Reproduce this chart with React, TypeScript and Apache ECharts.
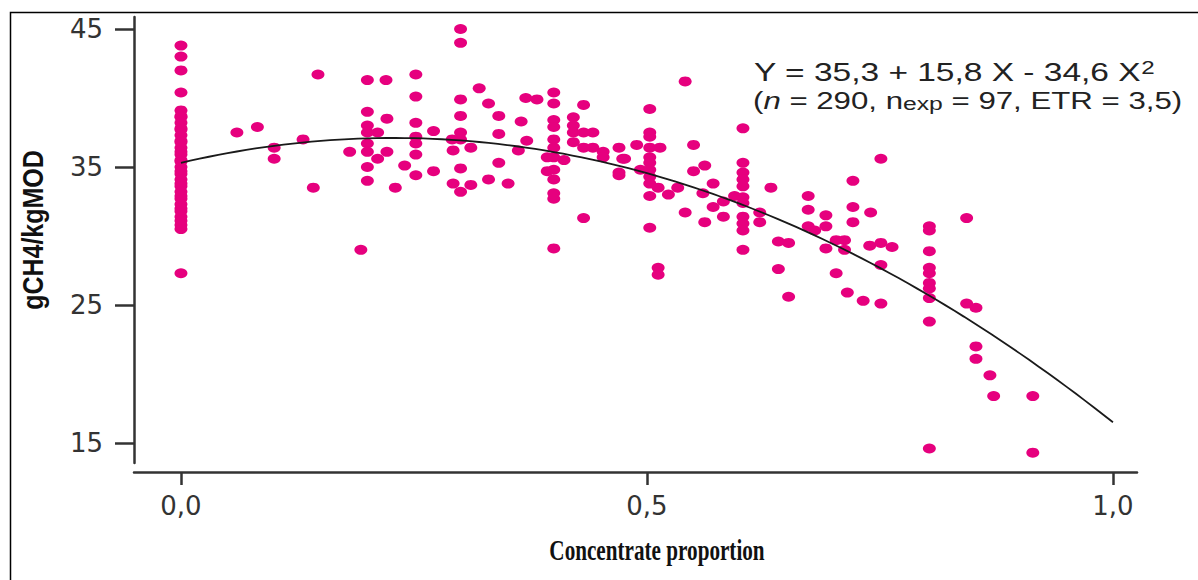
import React, { useEffect, useRef } from "react";
import * as echarts from "echarts";

// Forage-only diets (concentrate proportion = 0)
const forageMethane = [
  43.8, 43.0, 42.0, 40.4, 39.1, 38.7, 38.6, 38.2, 37.8, 37.7, 37.3, 36.9, 36.8,
  36.4, 36.1, 35.9, 35.5, 35.4, 35.0, 34.7, 34.5, 34.1, 33.8, 33.6, 33.2, 32.9,
  32.7, 32.3, 32.0, 31.8, 31.4, 31.1, 30.8, 30.5, 27.3,
];

// [concentrate proportion, gCH4/kgMOD]
const lowConcentrate: [number, number][] = [
  [0.06, 37.5], [0.082, 37.9], [0.1, 36.4], [0.1, 35.6], [0.131, 37.0],
  [0.142, 33.5], [0.147, 41.7], [0.181, 36.1], [0.193, 29.0],
  [0.2, 41.3], [0.2, 39.0], [0.2, 38.0], [0.2, 37.5], [0.2, 36.7], [0.2, 36.1],
  [0.2, 35.0], [0.2, 34.0],
  [0.211, 37.5], [0.211, 35.6], [0.22, 41.3], [0.221, 38.5], [0.221, 36.1],
  [0.23, 33.5], [0.24, 35.1],
  [0.252, 41.7], [0.252, 40.1], [0.252, 38.2], [0.252, 37.2], [0.252, 36.7],
  [0.252, 35.9], [0.252, 34.4],
  [0.271, 37.6], [0.271, 34.7],
  [0.3, 45.0], [0.3, 44.0], [0.3, 39.9], [0.3, 38.7], [0.3, 37.5], [0.3, 37.0],
  [0.3, 34.9], [0.3, 33.2],
  [0.291, 37.0], [0.292, 36.2], [0.292, 33.8], [0.311, 36.4], [0.311, 33.7],
  [0.32, 40.7], [0.33, 39.6], [0.33, 34.1], [0.341, 38.7], [0.341, 37.4],
  [0.341, 35.3], [0.351, 33.8],
];

const midConcentrate: [number, number][] = [
  [0.365, 38.3], [0.362, 36.2], [0.371, 36.9], [0.37, 40.0], [0.382, 39.9],
  [0.4, 40.4], [0.4, 39.6], [0.4, 38.4], [0.4, 37.9], [0.4, 37.0], [0.4, 36.4],
  [0.4, 35.7], [0.4, 34.8], [0.4, 34.1], [0.4, 33.1], [0.4, 32.7], [0.4, 29.1],
  [0.393, 35.7], [0.393, 34.7], [0.411, 35.5],
  [0.421, 38.6], [0.421, 38.0], [0.421, 37.5], [0.421, 36.8],
  [0.432, 39.5], [0.432, 37.5], [0.432, 36.4], [0.432, 31.3], [0.442, 37.5],
  [0.442, 36.4], [0.453, 36.1], [0.453, 35.7], [0.47, 36.4], [0.47, 34.6],
  [0.474, 35.6], [0.476, 35.6], [0.489, 36.6], [0.493, 34.8], [0.47, 34.4],
  [0.503, 39.2], [0.503, 37.5], [0.503, 37.2], [0.503, 36.4], [0.503, 35.7],
  [0.503, 35.3], [0.503, 34.8], [0.503, 34.3], [0.503, 33.8], [0.503, 32.9],
  [0.503, 30.6],
  [0.514, 36.4], [0.512, 33.5], [0.512, 27.7], [0.512, 27.2], [0.523, 33.0],
  [0.533, 33.5], [0.541, 31.7], [0.541, 41.2], [0.55, 36.6], [0.55, 34.7],
  [0.562, 35.1], [0.56, 33.1], [0.562, 31.0], [0.571, 33.8], [0.571, 32.1],
  [0.582, 32.5], [0.582, 31.4], [0.594, 32.9],
];

const highConcentrate: [number, number][] = [
  [0.603, 37.8], [0.603, 35.3], [0.603, 34.6], [0.603, 34.1], [0.603, 33.6],
  [0.603, 32.8], [0.603, 32.4], [0.603, 31.4], [0.603, 30.9], [0.603, 30.4],
  [0.603, 29.0],
  [0.621, 31.7], [0.621, 31.0], [0.633, 33.5], [0.641, 29.6], [0.652, 29.5],
  [0.641, 27.6], [0.652, 25.6], [0.673, 32.9], [0.673, 31.9], [0.673, 30.7],
  [0.68, 30.4], [0.692, 31.5], [0.692, 30.7], [0.692, 29.1], [0.703, 29.7],
  [0.712, 29.7], [0.712, 29.0], [0.703, 27.3], [0.715, 25.9], [0.721, 34.0],
  [0.721, 32.1], [0.721, 31.0], [0.74, 31.7], [0.739, 29.3], [0.751, 35.6],
  [0.751, 29.5], [0.763, 29.2], [0.751, 27.9], [0.732, 25.3], [0.751, 25.1],
  [0.803, 30.7], [0.803, 30.4], [0.803, 28.9], [0.803, 27.7], [0.803, 27.3],
  [0.803, 26.6], [0.803, 26.2], [0.803, 25.5], [0.803, 23.8], [0.803, 14.6],
  [0.843, 31.3], [0.843, 25.1], [0.853, 24.8], [0.853, 22.0], [0.853, 21.1],
  [0.868, 19.9], [0.872, 18.4], [0.914, 18.4], [0.914, 14.3],
];

// Quadratic fit: Y = a + b X + c X^2
const fitIntercept = 35.3;
const fitLinear = 15.8;
const fitQuadratic = -34.6;

const xTicks = [0, 0.5, 1];
const yTicks = [15, 25, 35, 45];

const MAGENTA = "#e6007e";
const AXIS = "#333333";

export default function App() {
  const ref = useRef<HTMLDivElement>(null);

  useEffect(() => {
    if (!ref.current) return;
    const chart = echarts.init(ref.current, null, { renderer: "svg" });

    const scatterData: [number, number][] = [
      ...forageMethane.map((y) => [0, y] as [number, number]),
      ...lowConcentrate,
      ...midConcentrate,
      ...highConcentrate,
    ];

    const fitCurve: [number, number][] = [];
    for (let i = 0; i <= 100; i++) {
      const x = i / 100;
      fitCurve.push([x, fitIntercept + fitLinear * x + fitQuadratic * x * x]);
    }

    chart.setOption({
      animation: false,
      backgroundColor: "#ffffff",
      grid: {
        left: 134,
        right: 61,
        top: 17,
        bottom: 117,
        outerBoundsMode: "none",
      },
      xAxis: {
        type: "value",
        min: -0.0504,
        max: 1.0258,
        offset: 9,
        splitLine: { show: false },
        axisLine: { show: true, onZero: false, lineStyle: { color: AXIS, width: 2.5 } },
        axisTick: {
          show: true,
          length: 13,
          customValues: xTicks,
          lineStyle: { color: AXIS, width: 2.5 },
        },
        axisLabel: {
          customValues: xTicks,
          formatter: (v: number) => v.toFixed(1).replace(".", ","),
          fontFamily: "DejaVu Sans",
          fontSize: 26,
          color: AXIS,
          margin: 21,
        },
      },
      yAxis: {
        type: "value",
        min: 13.55,
        max: 45.87,
        splitLine: { show: false },
        axisLine: { show: true, onZero: false, lineStyle: { color: AXIS, width: 2.5 } },
        axisTick: {
          show: true,
          length: 19,
          customValues: yTicks,
          lineStyle: { color: AXIS, width: 2.5 },
        },
        axisLabel: {
          customValues: yTicks,
          formatter: (v: number) => String(v),
          fontFamily: "DejaVu Sans",
          fontSize: 26,
          color: AXIS,
          margin: 31,
        },
      },
      series: [
        {
          type: "scatter",
          data: scatterData,
          symbol: "circle",
          symbolSize: [13, 10],
          itemStyle: { color: MAGENTA, opacity: 1 },
          silent: true,
          z: 2,
        },
        {
          type: "line",
          data: fitCurve,
          showSymbol: false,
          smooth: false,
          lineStyle: { color: "#1a1a1a", width: 1.8 },
          silent: true,
          z: 3,
        },
      ],
      graphic: [
        {
          type: "rect",
          shape: { x: 10.5, y: 12.5, width: 1200, height: 600 },
          style: { fill: "none", stroke: "#000000", lineWidth: 1.5 },
          silent: true,
        },
        {
          type: "text",
          x: 33,
          y: 230,
          rotation: Math.PI / 2,
          scaleY: 1.2,
          style: {
            text: "gCH4/kgMOD",
            fontFamily: "Liberation Sans",
            fontWeight: "bold",
            fontSize: 25,
            fill: "#111111",
            align: "center",
            verticalAlign: "middle",
          },
        },
        {
          type: "text",
          x: 657,
          y: 550,
          scaleX: 0.73,
          style: {
            text: "Concentrate proportion",
            fontFamily: "Liberation Serif",
            fontWeight: "bold",
            fontSize: 29,
            fill: "#111111",
            align: "center",
            verticalAlign: "middle",
          },
        },
        {
          type: "text",
          x: 754,
          y: 72,
          scaleX: 1.34,
          style: {
            text: "Y = 35,3 + 15,8 X - 34,6 X{sup|2}",
            fontFamily: "Liberation Sans",
            fontSize: 25,
            lineHeight: 25,
            fill: "#222222",
            align: "left",
            verticalAlign: "middle",
            rich: {
              sup: { fontFamily: "Liberation Sans", fontSize: 18, lineHeight: 18, verticalAlign: "top", fill: "#222222" },
            },
          },
        },
        {
          type: "text",
          x: 753,
          y: 101,
          scaleX: 1.3,
          style: {
            text: "({it|n} = 290, n{sub|exp} = 97, ETR = 3,5)",
            fontFamily: "Liberation Sans",
            fontSize: 24,
            lineHeight: 24,
            fill: "#222222",
            align: "left",
            verticalAlign: "middle",
            rich: {
              it: { fontFamily: "Liberation Sans", fontSize: 24, lineHeight: 24, fontStyle: "italic", fill: "#222222" },
              sub: { fontFamily: "Liberation Sans", fontSize: 19, lineHeight: 19, verticalAlign: "bottom", fill: "#222222" },
            },
          },
        },
      ],
    });

    return () => chart.dispose();
  }, []);

  return (
    <div
      ref={ref}
      style={{ position: "fixed", left: 0, top: 0, width: 1198, height: 580, background: "#fff" }}
    />
  );
}
